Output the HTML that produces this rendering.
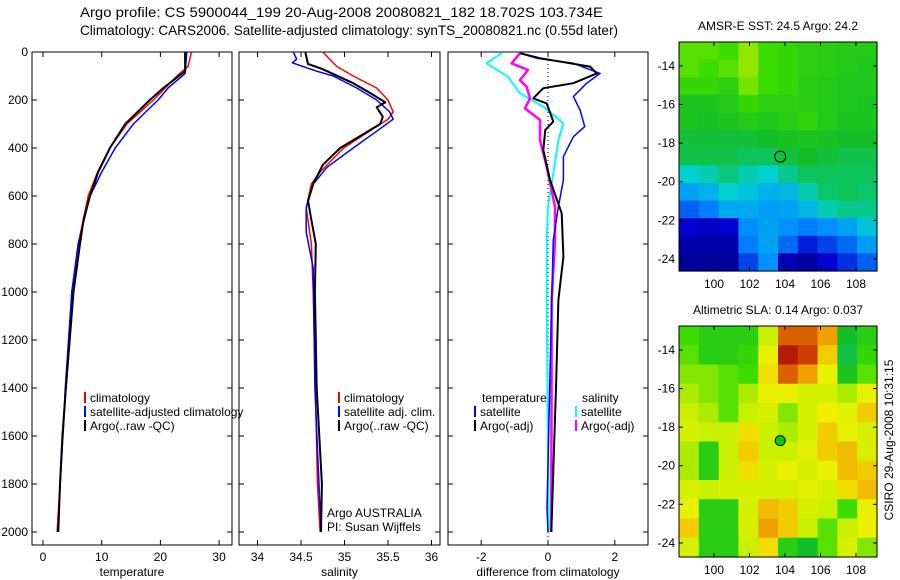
<!DOCTYPE html>
<html><head><meta charset="utf-8"><style>
body{margin:0;background:#fff;}
svg{display:block;font-family:"Liberation Sans",sans-serif;}
</style></head><body>
<svg id="chart" width="900" height="580" viewBox="0 0 900 580" xmlns="http://www.w3.org/2000/svg">
<rect width="900" height="580" fill="#fff"/>
<text x="80" y="17" font-size="14" textLength="523" lengthAdjust="spacingAndGlyphs">Argo profile: CS 5900044_199 20-Aug-2008 20080821_182 18.702S 103.734E</text>
<text x="80" y="35" font-size="14" textLength="538" lengthAdjust="spacingAndGlyphs">Climatology: CARS2006. Satellite-adjusted climatology: synTS_20080821.nc (0.55d later)</text>
<g id="layer"></g>
</svg>
<script>
// ---------- profile data ----------
const tClimDepth=[0,60,100,200,300,400,500,600,800,1000,1400,2000];
const tClimVal=[25.3,24.7,22.8,18.8,14.3,11.4,9.3,7.7,6.0,4.9,3.9,2.4];
const tSatDepth=[0,90,150,200,300,400,500,600,800,1000,1400,2000];
const tSatVal=[24.5,24.2,21.3,19.6,15.4,12.3,10.0,8.0,6.0,4.9,3.8,2.5];
const tArgoDepth=[0,80,150,200,300,400,500,600,700,800,1000,1400,1600,1800,2000];
const tArgoVal=[24.2,24.2,20.5,18.2,14.0,11.4,9.4,8.0,6.9,6.3,5.2,3.9,3.3,2.9,2.6];

const sClimDepth=[0,60,100,150,200,250,280,320,400,500,550,650,800,1000,1800,2000];
const sClimVal=[34.75,34.91,35.1,35.37,35.5,35.56,35.5,35.33,34.99,34.72,34.62,34.56,34.62,34.64,34.69,34.72];
const sSatDepth=[0,30,45,80,100,150,200,250,280,330,400,480,550,650,750,900,1400,2000];
const sSatVal=[34.41,34.45,34.4,34.68,34.87,35.14,35.37,35.52,35.56,35.37,35.1,34.8,34.64,34.56,34.56,34.64,34.66,34.73];
const sArgoDepth=[0,50,70,130,170,210,230,270,300,350,400,470,550,620,700,800,1000,1400,1800,2000];
const sArgoVal=[34.55,34.58,34.74,35.1,35.29,35.47,35.37,35.44,35.41,35.18,34.95,34.75,34.64,34.58,34.62,34.67,34.66,34.68,34.74,34.73];

const dTSatDepth=[5,26,47,89,130,186,242,311,353,436,533,644,783,1033,1400,1900,2000];
const dTSatVal=[-0.84,-0.34,0.76,1.56,1.16,0.76,0.96,1.1,0.76,0.46,0.46,0.31,0.16,0.11,0.05,-0.03,0.0];
const dTArgoDepth=[5,26,61,89,130,151,193,214,290,325,408,533,672,853,1033,1400,2000];
const dTArgoVal=[-0.84,-0.24,1.26,1.46,0.76,-0.14,-0.44,-0.04,0.16,-0.08,-0.14,0.06,0.41,0.46,0.31,0.24,0.1];
const dSSatDepth=[5,47,103,172,228,297,367,506,644,783,1033,2000];
const dSSatVal=[-1.39,-1.84,-1.2,-0.84,-0.14,0.46,0.31,0.16,0.0,-0.04,-0.04,0.02];
const dSArgoDepth=[5,47,75,117,144,193,235,283,367,478,644,783,1033,2000];
const dSArgoVal=[-0.84,-1.09,-0.6,-0.84,-0.64,-0.54,-0.69,-0.24,-0.24,-0.04,0.21,0.21,0.11,0.1];

const depthTicks=[0,200,400,600,800,1000,1200,1400,1600,1800,2000];
const tempTicks=[0,10,20,30];
const salTicks=[34,34.5,35,35.5,36];
const diffTicks=[-2,0,2];

// ---------- map data (value 0..1 on colour scale) ----------
const sstGrid=[
[.62,.62,.60,.66,.60,.58,.56,.55,.54,.54],
[.62,.60,.62,.66,.60,.58,.56,.55,.54,.53],
[.58,.58,.56,.64,.60,.58,.55,.54,.53,.53],
[.52,.52,.54,.58,.56,.56,.55,.54,.53,.52],
[.52,.51,.52,.54,.53,.55,.57,.54,.52,.52],
[.49,.49,.49,.49,.50,.51,.52,.51,.50,.50],
[.48,.48,.48,.47,.47,.49,.50,.49,.48,.48],
[.40,.42,.45,.42,.40,.44,.47,.47,.47,.47],
[.33,.35,.40,.38,.35,.36,.42,.46,.47,.46],
[.25,.28,.34,.34,.32,.33,.36,.42,.44,.44],
[.15,.12,.15,.30,.33,.30,.28,.30,.33,.38],
[.08,.08,.08,.28,.33,.26,.18,.22,.26,.32],
[.05,.05,.05,.22,.30,.10,.06,.15,.20,.25]];
const slaGrid=[
[.60,.55,.55,.55,.70,.90,.90,.85,.50,.55],
[.62,.55,.55,.58,.75,.97,.93,.80,.48,.58],
[.65,.65,.62,.60,.78,.90,.85,.75,.52,.62],
[.68,.65,.62,.68,.75,.75,.72,.72,.68,.75],
[.70,.68,.62,.70,.72,.65,.72,.76,.74,.80],
[.72,.70,.70,.78,.70,.68,.72,.80,.75,.72],
[.68,.55,.70,.80,.70,.70,.74,.80,.82,.72],
[.68,.55,.70,.78,.72,.75,.72,.75,.82,.80],
[.72,.70,.72,.72,.72,.72,.74,.72,.78,.82],
[.75,.55,.55,.72,.82,.80,.72,.70,.60,.75],
[.80,.55,.55,.72,.85,.80,.70,.62,.70,.75],
[.72,.55,.55,.70,.78,.55,.50,.62,.72,.65]];
const lonTicks=[100,102,104,106,108];
const latTicks=[-14,-16,-18,-20,-22,-24];
const floatLon=103.73, floatLat=-18.70;

const NS="http://www.w3.org/2000/svg";
const L=document.getElementById('layer');
function mk(tag,attrs,parent){const e=document.createElementNS(NS,tag);for(const k in attrs)e.setAttribute(k,attrs[k]);(parent||L).appendChild(e);return e;}

const yTop=52, yBot=545;
const yD=d=>52+d*0.24;
const xT=v=>43+v*5.87;
const xS=v=>257.5+(v-34)*87;
const xDf=v=>548+v*33.4;

function panel(name,x0,x1,xf,ticks,label,labelY,showDepth){
  const r=mk('rect',{x:x0,y:yTop,width:x1-x0,height:yBot-yTop,fill:'none',stroke:'#000','stroke-width':1});
  
  
  ticks.forEach(t=>{
    const x=xf(t);
    mk('line',{x1:x,x2:x,y1:yBot,y2:yBot-5,stroke:'#000'});
    mk('line',{x1:x,x2:x,y1:yTop,y2:yTop+5,stroke:'#000'});
    const tx=mk('text',{x:x,y:561,'font-size':12,'text-anchor':'middle'});
    tx.textContent=t;
    
    
  });
  depthTicks.forEach(d=>{
    const y=yD(d);
    mk('line',{x1:x0,x2:x0+5,y1:y,y2:y,stroke:'#000'});
    mk('line',{x1:x1,x2:x1-5,y1:y,y2:y,stroke:'#000'});
    if(showDepth){
      const tx=mk('text',{x:28,y:y+4,'font-size':12,'text-anchor':'end'});
      tx.textContent=d;
      
      
    }
  });
  const lb=mk('text',{x:(x0+x1)/2,y:576,'font-size':12,'text-anchor':'middle'});
  lb.textContent=label;
  
  
}
function line(name,depths,vals,xf,color,w){
  const pts=depths.map((d,i)=>xf(vals[i]).toFixed(1)+','+yD(d).toFixed(1)).join(' ');
  const p=mk('polyline',{points:pts,fill:'none',stroke:color,'stroke-width':w,'stroke-linejoin':'round'});
  
  
}
function legend(name,x,y,color,text){
  mk('rect',{x:x,y:y-10,width:2,height:11,fill:color});
  const t=mk('text',{x:x+6,y:y,'font-size':12});
  t.textContent=text;
  
  
}

panel('temperature-panel',32,232,xT,tempTicks,'temperature',572,true);
line('temp-climatology-line',tClimDepth,tClimVal,xT,'#f00',1.5);
line('temp-satellite-line',tSatDepth,tSatVal,xT,'#00f',1.5);
line('temp-argo-line',tArgoDepth,tArgoVal,xT,'#000',2);
legend('legend-climatology',84,402,'#f00','climatology');
legend('legend-satellite-adjusted',84,416,'#00f','satellite-adjusted climatology');
legend('legend-argo-raw',84,430,'#000','Argo(..raw -QC)');

panel('salinity-panel',239,440,xS,salTicks,'salinity',572,false);
line('sal-climatology-line',sClimDepth,sClimVal,xS,'#f00',1.5);
line('sal-satellite-line',sSatDepth,sSatVal,xS,'#00f',1.5);
line('sal-argo-line',sArgoDepth,sArgoVal,xS,'#000',2);
legend('sal-legend-climatology',338,402,'#f00','climatology');
legend('sal-legend-satellite',338,416,'#00f','satellite adj. clim.');
legend('sal-legend-argo',338,430,'#000','Argo(..raw -QC)');
[['Argo AUSTRALIA',517],['PI: Susan Wijffels',531]].forEach(a=>{
  const t=mk('text',{x:327,y:a[1],'font-size':12});t.textContent=a[0];
  
  
});

panel('difference-panel',448,648,xDf,diffTicks,'difference from climatology',572,false);
mk('line',{x1:xDf(0),x2:xDf(0),y1:yTop,y2:yBot,stroke:'#000','stroke-dasharray':'1,3'});
line('diff-sal-satellite-line',dSSatDepth,dSSatVal,xDf,'#0ff',2);
line('diff-sal-argo-line',dSArgoDepth,dSArgoVal,xDf,'#f0f',2.5);
line('diff-temp-satellite-line',dTSatDepth,dTSatVal,xDf,'#00f',1.5);
line('diff-temp-argo-line',dTArgoDepth,dTArgoVal,xDf,'#000',2);
{const t=mk('text',{x:482,y:402,'font-size':12});t.textContent='temperature';

const s=mk('text',{x:582,y:402,'font-size':12});s.textContent='salinity';
}
legend('diff-legend-temp-satellite',474,416,'#00f','satellite');
legend('diff-legend-temp-argo',474,430,'#000','Argo(-adj)');
legend('diff-legend-sal-satellite',575,416,'#0ff','satellite');
legend('diff-legend-sal-argo',575,430,'#f0f','Argo(-adj)');

const cStops=[[0,[0,0,128]],[0.15,[0,0,208]],[0.3,[0,144,255]],[0.4,[0,208,208]],[0.5,[20,190,40]],[0.6,[60,220,0]],[0.7,[200,240,0]],[0.76,[240,240,0]],[0.85,[240,160,0]],[0.92,[210,70,0]],[1,[160,0,0]]];
function cmap(v){for(let i=1;i<cStops.length;i++){if(v<=cStops[i][0]){const a=cStops[i-1],b=cStops[i];const f=(v-a[0])/(b[0]-a[0]);return 'rgb('+a[1].map((c,k)=>Math.round(c+(b[1][k]-c)*f)).join(',')+')';}}return 'rgb(160,0,0)';}
const xLon=l=>714+(l-100)*17.75;
function map(name,grid,top,bot,latTop,title,filledDot){
  const x0=679,x1=877;
  const yLat=lat=>top+(latTop-lat)*19.3;
  const rows=grid.length, cols=grid[0].length;
  const cw=(x1-x0)/cols, ch=(bot-top)/rows;
  grid.forEach((row,i)=>row.forEach((v,j)=>{
    const c=mk('rect',{x:(x0+j*cw).toFixed(2),y:(top+i*ch).toFixed(2),width:(cw+0.6).toFixed(2),height:(ch+0.6).toFixed(2),fill:cmap(v)});
    
    
  }));
  const fr=mk('rect',{x:x0,y:top,width:x1-x0,height:bot-top,fill:'none',stroke:'#000'});
  
  
  lonTicks.forEach(l=>{const x=xLon(l);
    mk('line',{x1:x,x2:x,y1:bot,y2:bot-4,stroke:'#000'});mk('line',{x1:x,x2:x,y1:top,y2:top+4,stroke:'#000'});
    const t=mk('text',{x:x,y:bot+17,'font-size':12,'text-anchor':'middle'});t.textContent=l;
    });
  latTicks.forEach(l=>{const y=yLat(l);
    mk('line',{x1:x0,x2:x0+4,y1:y,y2:y,stroke:'#000'});mk('line',{x1:x1,x2:x1-4,y1:y,y2:y,stroke:'#000'});
    const t=mk('text',{x:675,y:y+4,'font-size':12,'text-anchor':'end'});t.textContent=l;
    });
  const tt=mk('text',{x:778,y:top-12,'font-size':12,'text-anchor':'middle'});tt.textContent=title;
  
  const dot=mk('circle',{cx:xLon(floatLon),cy:yLat(floatLat),r:filledDot?5:5.5,fill:filledDot?'#00d000':'none',stroke:'#000','stroke-width':1});
  
  
}
map('sst-map',sstGrid,42,271,-12.76,'AMSR-E SST: 24.5 Argo: 24.2',false);
map('sla-map',slaGrid,326,557,-12.76,'Altimetric SLA: 0.14 Argo: 0.037',true);

const ts=mk('text',{x:893,y:440,'font-size':12,'text-anchor':'middle',transform:'rotate(-90 893 440)'});
ts.textContent='CSIRO 29-Aug-2008 10:31:15';


</script>
</body></html>
